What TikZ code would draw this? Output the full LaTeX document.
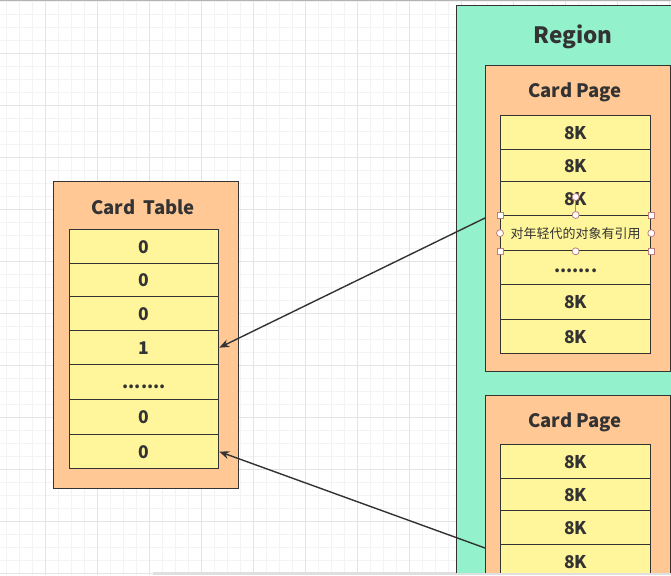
\documentclass[tikz,border=0pt]{standalone}
\usepackage{fontspec}
\setmainfont{Noto Sans CJK SC}
\usetikzlibrary{arrows.meta}
\definecolor{regiongreen}{HTML}{93F1CC}
\definecolor{peach}{HTML}{FFC895}
\definecolor{cellyellow}{HTML}{FFF59B}
\definecolor{ink}{HTML}{333333}
\definecolor{gridminor}{HTML}{F3F3F3}
\definecolor{gridmajor}{HTML}{E4E4E4}
\definecolor{handle}{HTML}{C08080}
\tikzset{
  box/.style={draw=ink, line width=1.3pt, inner sep=0pt, anchor=north west},
  regionbox/.style={box, fill=regiongreen},
  pagebox/.style={box, fill=peach},
  cellbox/.style={box, fill=cellyellow, minimum width=150pt, text=ink, font=\fontsize{17.5}{17.5}\selectfont\bfseries},
  tcell/.style={cellbox, minimum width=149pt},
  title/.style={text=ink, inner sep=0pt},
  link/.style={draw=ink, line width=1.4pt, -{Stealth[length=10pt,width=8pt]}},
  sqhandle/.style={draw=handle, fill=white, line width=0.8pt, minimum size=6pt, inner sep=0pt, rectangle},
  rdhandle/.style={draw=handle, fill=white, line width=0.8pt, minimum size=7pt, inner sep=0pt, circle},
}
\begin{document}
\begin{tikzpicture}[x=1pt,y=-1pt]
\useasboundingbox (0,0) rectangle (671,575);
\fill[white] (0,0) rectangle (671,575);
% grid
\foreach \gx in {6,19,...,671} {\draw[gridminor, line width=0.8pt] (\gx,0) -- (\gx,575);}
\foreach \gy in {1,14,...,575} {\draw[gridminor, line width=0.8pt] (0,\gy) -- (671,\gy);}
\foreach \gx in {45,97,...,671} {\draw[gridmajor, line width=0.8pt] (\gx,0) -- (\gx,575);}
\foreach \gy in {53,105,...,575} {\draw[gridmajor, line width=0.8pt] (0,\gy) -- (671,\gy);}
\draw[gray!60, line width=1pt] (0,0.5) -- (671,0.5);
\fill[gray!25] (153,572) rectangle (671,575);

\begin{scope}
\clip (0,0) rectangle (671,572);
% Region
\node[regionbox, minimum width=240pt, minimum height=620pt] (region) at (456,5) {};
\node[title, font=\fontsize{22.5}{22.5}\selectfont\bfseries] (regiont) at (573,37) {Region};

% Card Page 1
\node[pagebox, minimum width=185pt, minimum height=306pt] (cp1) at (485,65) {};
\node[title, font=\fontsize{18.5}{18.5}\selectfont\bfseries] (cp1t) at (575,92) {Card Page};
\node[cellbox, minimum height=34pt] (p1) at (500,115) {8K};
\node[cellbox, minimum height=32pt] (p2) at (500,149) {8K};
\node[cellbox, minimum height=34pt] (p3) at (500,181) {8K};
\node[cellbox, minimum height=35pt, font=\fontsize{13}{13}\selectfont] (p4) at (500,215) {对年轻代的对象有引用};
\node[cellbox, minimum height=34pt] (p5) at (500,250) {\raisebox{-5pt}[0pt][0pt]{.......}};
\node[cellbox, minimum height=35pt] (p6) at (500,284) {8K};
\node[cellbox, minimum height=34pt] (p7) at (500,319) {8K};

% Card Page 2
\node[pagebox, minimum width=185pt, minimum height=250pt] (cp2) at (485,395) {};
\node[title, font=\fontsize{18.5}{18.5}\selectfont\bfseries] (cp2t) at (575,422) {Card Page};
\node[cellbox, minimum height=34pt] (q1) at (500,444) {8K};
\node[cellbox, minimum height=32pt] (q2) at (500,478) {8K};
\node[cellbox, minimum height=34pt] (q3) at (500,510) {8K};
\node[cellbox, minimum height=34pt] (q4) at (500,544) {8K};
\end{scope}

% selection handles on p4
\draw[handle, line width=0.8pt] (p4.north) -- ++(0,-18) node[rdhandle, anchor=center] (rot) {};
\node[sqhandle] (h1) at (p4.north west) {};
\node[sqhandle] (h2) at (p4.north east) {};
\node[sqhandle] (h3) at (p4.south west) {};
\node[sqhandle] (h4) at (p4.south east) {};
\node[rdhandle] (h5) at (p4.north) {};
\node[rdhandle] (h6) at (p4.south) {};
\node[rdhandle] (h7) at (p4.west) {};
\node[rdhandle] (h8) at (p4.east) {};

% Card Table
\node[pagebox, minimum width=185pt, minimum height=307pt] (ct) at (53,181) {};
\node[title, font=\fontsize{18.5}{18.5}\selectfont\bfseries] (ctt) at (143,207) {Card\ \ Table};
\node[tcell, minimum height=34pt] (c1) at (69,229) {0};
\node[tcell, minimum height=33pt] (c2) at (69,263) {0};
\node[tcell, minimum height=34pt] (c3) at (69,296) {0};
\node[tcell, minimum height=34pt] (c4) at (69,330) {1};
\node[tcell, minimum height=35pt] (c5) at (69,364) {\raisebox{-6pt}[0pt][0pt]{.......}};
\node[tcell, minimum height=35pt] (c6) at (69,399) {0};
\node[tcell, minimum height=34pt] (c7) at (69,434) {0};

% connectors
\coordinate (a1) at (485,218);
\coordinate (a2) at (485,548);
\draw[link] (a1) -- (c4.east);
\draw[link] (a2) -- (c7.east);
\end{tikzpicture}
\end{document}
